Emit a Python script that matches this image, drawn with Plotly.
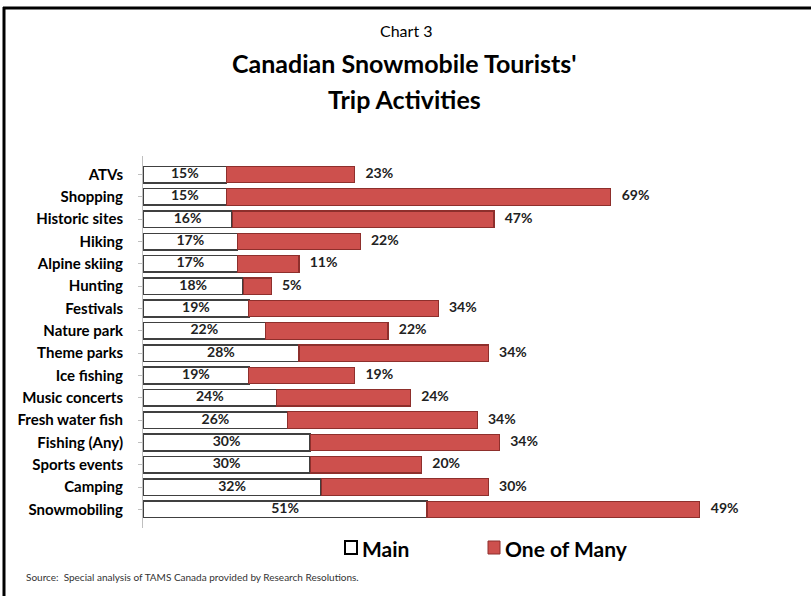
import plotly.graph_objects as go

categories = ["ATVs", "Shopping", "Historic sites", "Hiking", "Alpine skiing", "Hunting",
              "Festivals", "Nature park", "Theme parks", "Ice fishing", "Music concerts",
              "Fresh water fish", "Fishing (Any)", "Sports events", "Camping", "Snowmobiling"]
main_vals = [15, 15, 16, 17, 17, 18, 19, 22, 28, 19, 24, 26, 30, 30, 32, 51]
many_vals = [23, 69, 47, 22, 11, 5, 34, 22, 34, 19, 24, 34, 34, 20, 30, 49]
totals = [a + b for a, b in zip(main_vals, many_vals)]
main_mid = [v / 2 for v in main_vals]

FONT = "Lato"
RED = "#CD504D"

fig = go.Figure()
fig.add_trace(go.Bar(
    y=categories, x=main_vals, orientation="h", name="Main",
    marker=dict(color="white", line=dict(color="#404040", width=1.6)),
    width=0.74, showlegend=False,
))
fig.add_trace(go.Bar(
    y=categories, x=many_vals, orientation="h", name="One of Many",
    marker=dict(color=RED, line=dict(color="#8E2F2C", width=1.2)),
    width=0.74, showlegend=False,
))
fig.add_trace(go.Scatter(
    y=categories, x=main_mid, mode="text",
    text=[f"<b>{v}%</b>" for v in main_vals], textposition="middle center",
    textfont=dict(family=FONT, size=14, color="#222222"),
    showlegend=False, cliponaxis=False, hoverinfo="skip",
))
fig.add_trace(go.Scatter(
    y=categories, x=totals, mode="text",
    text=[f"   <b>{v}%</b>" for v in many_vals], textposition="middle right",
    textfont=dict(family=FONT, size=14, color="#222222"),
    showlegend=False, cliponaxis=False, hoverinfo="skip",
))

# pixel -> paper helpers
L, R, T, B = 143, 111, 156, 68
W, H = 811, 596
pw, ph = W - L - R, H - T - B
def px(x):
    return (x - L) / pw
def py(y):
    return (H - B - y) / ph

annotations = [
    dict(text="Chart 3", x=px(406), y=py(30), font=dict(size=16, family=FONT, color="black")),
    dict(text="<b>Canadian Snowmobile Tourists'</b>", x=px(404), y=py(63), font=dict(size=25, family=FONT, color="black")),
    dict(text="<b>Trip Activities</b>", x=px(404), y=py(99), font=dict(size=25, family=FONT, color="black")),
    dict(text="<b>Main</b>", x=px(360), y=py(548), xanchor="left", font=dict(size=21, family=FONT, color="black")),
    dict(text="<b>One of Many</b>", x=px(503), y=py(548), xanchor="left", font=dict(size=21, family=FONT, color="black")),
    dict(text="Source:  Special analysis of TAMS Canada provided by Research Resolutions.", x=px(24), y=py(577),
         xanchor="left", font=dict(size=10, family=FONT, color="#333333")),
]
for a in annotations:
    a.setdefault("xanchor", "center")
    a.update(xref="paper", yref="paper", yanchor="middle", showarrow=False)

shapes = [
    # frame lines (top and left)
    dict(type="line", xref="paper", yref="paper", x0=px(3), x1=px(811), y0=py(8), y1=py(8),
         line=dict(color="black", width=3)),
    dict(type="line", xref="paper", yref="paper", x0=px(4), x1=px(4), y0=py(7), y1=py(596),
         line=dict(color="black", width=3)),
    # legend squares
    dict(type="rect", xref="paper", yref="paper", x0=px(345), x1=px(357), y0=py(541), y1=py(554),
         fillcolor="white", line=dict(color="black", width=2)),
    dict(type="rect", xref="paper", yref="paper", x0=px(488), x1=px(500), y0=py(541), y1=py(554),
         fillcolor=RED, line=dict(color="#8E2F2C", width=1)),
]

fig.update_layout(
    width=W, height=H, barmode="stack",
    margin=dict(l=L, r=R, t=T, b=B),
    paper_bgcolor="white", plot_bgcolor="white",
    annotations=annotations, shapes=shapes,
    xaxis=dict(range=[0, 100], visible=False, fixedrange=True),
    yaxis=dict(autorange="reversed", showline=True, linecolor="#BFBFBF", linewidth=1,
               ticks="outside", ticklen=4, tickcolor="#BFBFBF",
               tickfont=dict(family=FONT, size=15, color="black"), ticklabelstandoff=12,
               showgrid=False, tickprefix="<b>", ticksuffix="</b>"),
    font=dict(family=FONT),
)

fig.write_html("out.html")
